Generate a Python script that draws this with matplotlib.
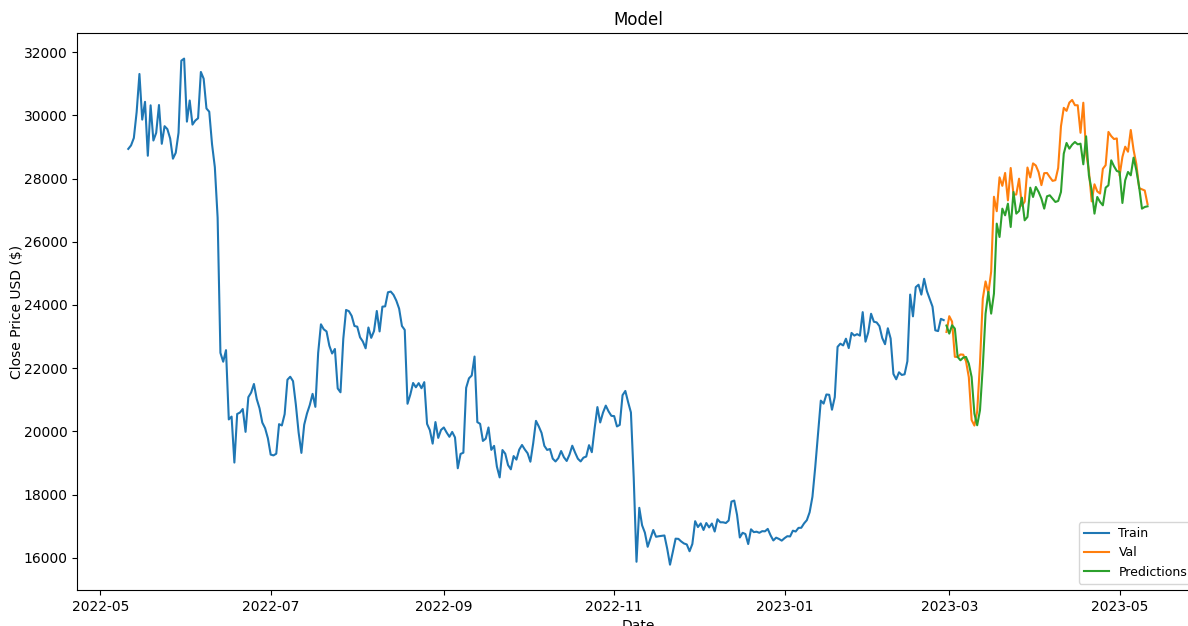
import matplotlib
matplotlib.use("Agg")
import matplotlib.pyplot as plt
import numpy as np
import pandas as pd

# daily close, 2022-05-11 .. 2023-02-27 (train)
train_close = [
    # 2022-05 (11..31)
    28936, 29048, 29283, 30102, 31306, 29863, 30425, 28720, 30315, 29201, 29445,
    30324, 29098, 29655, 29562, 29267, 28627, 28814, 29445, 31726, 31792,
    # 2022-06
    29799, 30467, 29705, 29833, 29906, 31370, 31156, 30215, 30112, 29083,
    28360, 26762, 22487, 22206, 22572, 20381, 20471, 19017, 20553, 20599,
    20710, 19988, 21085, 21231, 21502, 21027, 20735, 20281, 20105, 19785,
    # 2022-07
    19269, 19243, 19297, 20231, 20190, 20548, 21637, 21731, 21592, 20860,
    19970, 19323, 20212, 20569, 20836, 21190, 20779, 22485, 23389, 23231,
    23164, 22714, 22466, 22609, 21361, 21239, 22930, 23843, 23805, 23656, 23336,
    # 2022-08
    23314, 22978, 22846, 22630, 23289, 22961, 23175, 23810, 23164, 23947,
    23957, 24402, 24424, 24319, 24136, 23883, 23336, 23213, 20877, 21166,
    21534, 21398, 21529, 21368, 21560, 20240, 20041, 19616, 20297, 19797, 20049,
    # 2022-09
    20127, 19969, 19832, 19986, 19812, 18837, 19290, 19329, 21381, 21680,
    21770, 22370, 20296, 20241, 19701, 19772, 20127, 19419, 19545, 18890,
    18547, 19413, 19297, 18937, 18803, 19222, 19110, 19426, 19573, 19431,
    # 2022-10
    19312, 19044, 19623, 20336, 20160, 19955, 19546, 19416, 19446, 19141,
    19052, 19157, 19382, 19185, 19067, 19268, 19550, 19334, 19139, 19053,
    19172, 19208, 19567, 19345, 20095, 20771, 20285, 20595, 20818, 20635, 20495,
    # 2022-11
    20486, 20159, 20209, 21147, 21282, 20926, 20602, 18541, 15880, 17586,
    17034, 16800, 16353, 16619, 16884, 16670, 16687, 16698, 16711, 16291,
    15787, 16190, 16610, 16604, 16522, 16458, 16428, 16212, 16442, 17163,
    # 2022-12
    16977, 17092, 16885, 17105, 16966, 17089, 16836, 17224, 17128, 17128,
    17105, 17184, 17782, 17815, 17364, 16647, 16796, 16757, 16440, 16906,
    16817, 16830, 16796, 16847, 16842, 16919, 16717, 16553, 16642, 16603, 16548,
    # 2023-01
    16625, 16688, 16680, 16863, 16836, 16951, 16955, 17092, 17196, 17446,
    17934, 18869, 19910, 20976, 20881, 21170, 21161, 20688, 21086, 22676,
    22777, 22721, 22934, 22637, 23117, 23032, 23078, 23031, 23774, 22840, 23139,
    # 2023-02 (1..27)
    23723, 23471, 23449, 23331, 22955, 22760, 23264, 22940, 21819, 21651,
    21871, 21788, 21808, 22221, 24330, 23641, 24565, 24641, 24328, 24829,
    24436, 24188, 23947, 23199, 23175, 23562, 23522,
]

# 2023-02-28 .. 2023-05-11 (validation)
val_close = [
    23147,
    23646, 23475, 22362, 22354, 22436, 22429, 22219, 21718, 20363, 20187,
    20633, 22163, 24197, 24746, 24375, 25052, 27423, 26966, 28038, 27768,
    28175, 27307, 28333, 27493, 27494, 27994, 27139, 27268, 28348, 28033, 28478,
    28411, 28199, 27790, 28169, 28175, 28044, 27925, 27948, 28333, 29653,
    30235, 30139, 30400, 30485, 30318, 30316, 29445, 30397, 28823, 28245,
    27277, 27817, 27592, 27525, 28307, 28422, 29473, 29340, 29248, 29268,
    28091, 28680, 29006, 28847, 29534, 28904, 28454, 27695, 27659, 27621, 27190,
]

predictions = [
    23350,
    23095, 23358, 23253, 22357, 22252, 22336, 22357, 22146, 21725, 20565,
    20196, 20671, 22041, 23727, 24412, 23727, 24360, 26573, 26151, 27047,
    26836, 27205, 26467, 27574, 26889, 26973, 27395, 26678, 26784, 27711, 27416,
    27732, 27574, 27363, 27047, 27437, 27469, 27363, 27258, 27290, 27574,
    28786, 29124, 28944, 29071, 29155, 29081, 29102, 28449, 29334, 28101,
    27627, 26889, 27416, 27258, 27152, 27711, 27785, 28575, 28386, 28238,
    28207, 27226, 27943, 28207, 28101, 28660, 28259, 27732, 27047, 27100, 27121,
]

train_dates = pd.date_range("2022-05-11", periods=len(train_close), freq="D")
val_dates = pd.date_range("2023-02-28", periods=len(val_close), freq="D")

fig = plt.figure(figsize=(11.88, 6.26), dpi=100)
ax = fig.add_axes([77.3 / 1188, 36 / 626, 1121.2 / 1188, 556.7 / 626])

ax.plot(train_dates, train_close, label="Train")
ax.plot(val_dates, val_close, label="Val")
ax.plot(val_dates, predictions, label="Predictions")

ax.set_title("Model")
ax.set_xlabel("Date")
ax.set_ylabel("Close Price USD ($)", labelpad=0)
ax.legend(loc="lower right", fontsize=9)

fig.savefig("out.png", dpi=100)
